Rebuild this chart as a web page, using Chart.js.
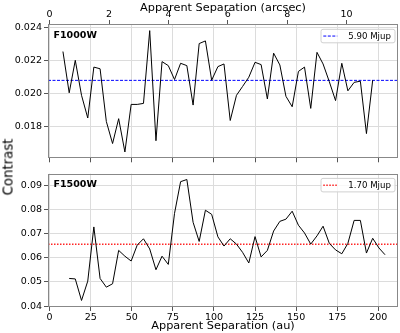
<!DOCTYPE html>
<html>
<head>
<meta charset="utf-8">
<script src="https://cdn.jsdelivr.net/npm/chart.js@4.4.0/dist/chart.umd.min.js"></script>
<style>
    body { margin: 0; background: #fff; width: 400px; height: 333px; overflow: hidden; position: relative; font-family: "DejaVu Sans", sans-serif; }
    #topPanel { position: absolute; left: 0; top: 0; }
    #bottomPanel { position: absolute; left: 0; top: 166px; }
    #yTitle { position: absolute; left: 7.5px; top: 166.5px; transform: translate(-50%, -50%) rotate(-90deg); font-size: 13.3px; white-space: nowrap; color: #000; }
</style>
</head>
<body>
<canvas id="topPanel" width="400" height="166"></canvas>
<canvas id="bottomPanel" width="400" height="167"></canvas>
<div id="yTitle">Contrast</div>
<script>
// separation of each sample (au), shared by both filters
const sepAu = [8.1, 11.9, 15.6, 19.4, 23.2, 26.9, 30.7, 34.5, 38.3, 42.0,
    45.8, 49.6, 53.3, 57.1, 60.9, 64.7, 68.4, 72.2, 76.0, 79.7,
    83.5, 87.3, 91.0, 94.8, 98.6, 102.4, 106.1, 109.9, 113.7, 117.4,
    121.2, 125.0, 128.7, 132.5, 136.3, 140.1, 143.8, 147.6, 151.4, 155.1,
    158.9, 162.7, 166.4, 170.2, 174.0, 177.8, 181.5, 185.3, 189.1, 192.8,
    196.6, 200.4, 204.1];

// F1000W contrast, starts at sepAu[0]
const contrastF1000W = [0.02254, 0.02005, 0.02201, 0.01990, 0.01853, 0.02160, 0.02150, 0.01832, 0.01699, 0.01849,
    0.01648, 0.01935, 0.01935, 0.01941, 0.02380, 0.01716, 0.02193, 0.02169, 0.02085, 0.02183,
    0.02169, 0.01931, 0.02302, 0.02318, 0.02081, 0.02163, 0.02179, 0.01838, 0.01990, 0.02043,
    0.02099, 0.02189, 0.02175, 0.01968, 0.02244, 0.02173, 0.01984, 0.01921, 0.02134, 0.02160,
    0.01911, 0.02249, 0.02179, 0.02072, 0.01958, 0.02183, 0.02017, 0.02068, 0.02075, 0.01759,
    0.02081];

// F1500W contrast, starts at sepAu[1]
const contrastF1500W = [0.0514, 0.0512, 0.0423, 0.0503, 0.0727, 0.0514, 0.0478, 0.0492, 0.0630, 0.0606,
    0.0586, 0.0652, 0.0678, 0.0636, 0.0550, 0.0606, 0.0572, 0.0783, 0.0914, 0.0923,
    0.0746, 0.0667, 0.0796, 0.0779, 0.0686, 0.0648, 0.0678, 0.0656, 0.0622, 0.0578,
    0.0687, 0.0603, 0.0630, 0.0710, 0.0750, 0.0759, 0.0792, 0.0734, 0.0702, 0.0656,
    0.0690, 0.0730, 0.0659, 0.0632, 0.0616, 0.0659, 0.0754, 0.0754, 0.0619, 0.0680,
    0.0640, 0.0612];

// mass limit lines
const massLevels = [0.0208, 0.0655];
const massLabels = ['5.90 Mjup', '1.70 Mjup'];
const filterNames = ['F1000W', 'F1500W'];

const auPerArcsec = 18.07;
const xMinAu = -1;
const xMaxAu = 212;

const fontFamily = '"DejaVu Sans", sans-serif';
const tickFont = { family: fontFamily, size: 9.5 };
const titleFont = { family: fontFamily, size: 11.3 };
const gridColor = '#dcdcdc';
const tickColor = '#555';

// frame, panel name and legend drawn inside the plot area
const panelDecor = {
    id: 'panelDecor',
    afterDraw(chart, args, opts) {
        const ctx = chart.ctx;
        const a = chart.chartArea;
        ctx.save();
        ctx.strokeStyle = '#888';
        ctx.lineWidth = 1;
        ctx.strokeRect(Math.round(a.left) + 0.5, Math.round(a.top) + 0.5,
            Math.round(a.right - a.left) - 1, Math.round(a.bottom - a.top) - 1);

        ctx.fillStyle = '#000';
        ctx.font = 'bold 9.5px ' + fontFamily;
        ctx.textAlign = 'left';
        ctx.textBaseline = 'middle';
        ctx.fillText(opts.name, a.left + 5.5, a.top + 11.2);

        // legend box
        const bx = a.right - 77, by = a.top + opts.legendTop, bw = 74, bh = 13.5;
        ctx.beginPath();
        ctx.roundRect(bx, by, bw, bh, 2);
        ctx.fillStyle = 'rgba(255,255,255,0.8)';
        ctx.fill();
        ctx.strokeStyle = '#d0d0d0';
        ctx.stroke();

        ctx.beginPath();
        ctx.setLineDash(opts.dash);
        ctx.strokeStyle = opts.color;
        ctx.lineWidth = opts.width;
        ctx.moveTo(bx + 2.3, by + bh / 2);
        ctx.lineTo(bx + 16.3, by + bh / 2);
        ctx.stroke();
        ctx.setLineDash([]);

        ctx.fillStyle = '#000';
        ctx.font = '8.6px ' + fontFamily;
        ctx.fillText(opts.label, bx + 27.3, by + bh / 2 + 0.5);
        ctx.restore();
    }
};

function fixSize(prop, value) {
    return (scale) => { scale[prop] = value; };
}

// top panel: F1000W
new Chart(document.getElementById('topPanel'), {
    type: 'line',
    data: {
        datasets: [{
            data: contrastF1000W.map((v, i) => ({ x: sepAu[i], y: v })),
            borderColor: '#000',
            borderWidth: 1,
            pointRadius: 0,
            tension: 0,
        }, {
            data: [{ x: xMinAu, y: massLevels[0] }, { x: xMaxAu, y: massLevels[0] }],
            borderColor: 'blue',
            borderWidth: 1,
            borderDash: [3, 1.5],
            pointRadius: 0,
        }]
    },
    options: {
        responsive: false,
        animation: false,
        layout: { padding: { left: 0, right: 2, top: 0, bottom: 0 } },
        plugins: {
            legend: { display: false },
            tooltip: { enabled: false },
            panelDecor: { name: filterNames[0], label: massLabels[0], color: 'blue', dash: [3, 1.5], width: 1, legendTop: 5.3 },
        },
        scales: {
            x: {
                type: 'linear',
                min: xMinAu,
                max: xMaxAu,
                afterFit: fixSize('height', 4),
                border: { display: false },
                grid: { color: gridColor, tickColor: tickColor, tickLength: 4 },
                ticks: { stepSize: 25, includeBounds: false, display: false },
            },
            xArcsec: {
                type: 'linear',
                position: 'top',
                min: xMinAu / auPerArcsec,
                max: xMaxAu / auPerArcsec,
                afterFit: fixSize('height', 24),
                border: { display: false },
                grid: { drawOnChartArea: false, tickColor: tickColor, tickLength: 4 },
                ticks: { stepSize: 2, includeBounds: false, font: tickFont, color: '#000', padding: 0, maxRotation: 0 },
                title: { display: true, text: 'Apparent Separation (arcsec)', font: titleFont, color: '#000', padding: { top: 1, bottom: 0 } },
            },
            y: {
                min: 0.0161,
                max: 0.0242,
                afterFit: fixSize('width', 48),
                border: { display: false },
                grid: { color: gridColor, tickColor: tickColor, tickLength: 4 },
                ticks: { stepSize: 0.002, includeBounds: false, font: tickFont, color: '#000', padding: 2,
                    callback: (v) => v.toFixed(3) },
            }
        }
    },
    plugins: [panelDecor]
});

// bottom panel: F1500W
new Chart(document.getElementById('bottomPanel'), {
    type: 'line',
    data: {
        datasets: [{
            data: contrastF1500W.map((v, i) => ({ x: sepAu[i + 1], y: v })),
            borderColor: '#000',
            borderWidth: 1,
            pointRadius: 0,
            tension: 0,
        }, {
            data: [{ x: xMinAu, y: massLevels[1] }, { x: xMaxAu, y: massLevels[1] }],
            borderColor: 'rgba(255,0,0,0.85)',
            borderWidth: 1.5,
            borderDash: [1.5, 1.5],
            pointRadius: 0,
        }]
    },
    options: {
        responsive: false,
        animation: false,
        layout: { padding: { left: 0, right: 2, top: 3.3, bottom: 0 } },
        plugins: {
            legend: { display: false },
            tooltip: { enabled: false },
            panelDecor: { name: filterNames[1], label: massLabels[1], color: 'rgba(255,0,0,0.85)', dash: [1.5, 1.5], width: 1.5, legendTop: 4.7 },
        },
        scales: {
            x: {
                type: 'linear',
                min: xMinAu,
                max: xMaxAu,
                afterFit: fixSize('height', 26),
                border: { display: false },
                grid: { color: gridColor, tickColor: tickColor, tickLength: 4 },
                ticks: { stepSize: 25, includeBounds: false, font: tickFont, color: '#000', padding: 1, maxRotation: 0 },
                title: { display: true, text: 'Apparent Separation (au)', font: titleFont, color: '#000', padding: { top: 0, bottom: 0 } },
            },
            y: {
                min: 0.0396,
                max: 0.0947,
                afterFit: fixSize('width', 48),
                border: { display: false },
                grid: { color: gridColor, tickColor: tickColor, tickLength: 4 },
                ticks: { stepSize: 0.01, includeBounds: false, font: tickFont, color: '#000', padding: 2,
                    callback: (v) => v.toFixed(2) },
            }
        }
    },
    plugins: [panelDecor]
});
</script>
</body>
</html>
